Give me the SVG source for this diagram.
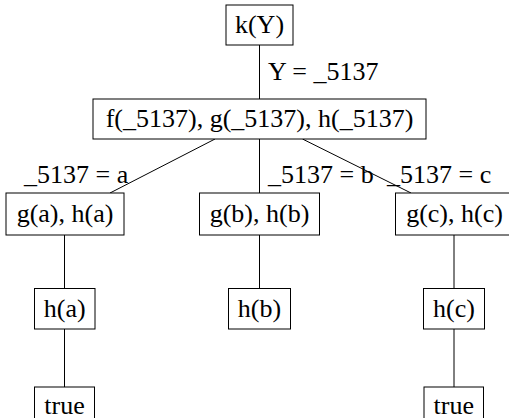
<svg xmlns="http://www.w3.org/2000/svg" width="509" height="418" viewBox="0 0 509 418">
  <style>
    text { font-family: 'Liberation Serif', 'Times New Roman', serif; font-size: 26px; fill: #000; }
    .node rect { fill: #fff; stroke: #000; stroke-width: 1; }
    .node text { text-anchor: middle; }
    .edges line { stroke: #000; stroke-width: 1; }
  </style>
  <rect width="509" height="418" fill="#fff"/>

  <!-- tree edges with their unification labels -->
  <g class="edges" id="edges">
    <line x1="259.5" y1="45" x2="259.5" y2="99"/>
    <line x1="215" y1="139" x2="110" y2="193"/>
    <line x1="259.5" y1="139" x2="259.5" y2="193"/>
    <line x1="302.5" y1="139" x2="411" y2="193"/>
    <line x1="64.5" y1="235" x2="64.5" y2="288"/>
    <line x1="259.5" y1="235" x2="259.5" y2="288"/>
    <line x1="454" y1="235" x2="454" y2="288"/>
    <line x1="64.5" y1="329" x2="64.5" y2="387"/>
    <line x1="454" y1="329" x2="454" y2="387"/>
    <text x="268" y="80">Y = _5137</text>
    <text x="24" y="183">_5137 = a</text>
    <text x="268" y="183">_5137 = b</text>
    <text x="387" y="183">_5137 = c</text>
  </g>

  <g class="node" id="n-kY">
    <rect x="226" y="5" width="67" height="40"/>
    <text x="259.5" y="33">k(Y)</text>
  </g>
  <g class="node" id="n-fgh">
    <rect x="93" y="99" width="333" height="40"/>
    <text x="259.5" y="127">f(_5137), g(_5137), h(_5137)</text>
  </g>
  <g class="node" id="n-gh-a">
    <rect x="6" y="193" width="118" height="42"/>
    <text x="65" y="222">g(a), h(a)</text>
  </g>
  <g class="node" id="n-gh-b">
    <rect x="199.5" y="193" width="120" height="42"/>
    <text x="259.5" y="222">g(b), h(b)</text>
  </g>
  <g class="node" id="n-gh-c">
    <rect x="395.5" y="193" width="118" height="42"/>
    <text x="454.5" y="222">g(c), h(c)</text>
  </g>
  <g class="node" id="n-h-a">
    <rect x="34.5" y="288.5" width="60.5" height="40.5"/>
    <text x="64.75" y="317">h(a)</text>
  </g>
  <g class="node" id="n-h-b">
    <rect x="228.5" y="288.5" width="62" height="40.5"/>
    <text x="259.5" y="317">h(b)</text>
  </g>
  <g class="node" id="n-h-c">
    <rect x="423.5" y="288.5" width="61" height="40.5"/>
    <text x="454" y="317">h(c)</text>
  </g>
  <g class="node" id="n-true-a">
    <rect x="34.5" y="387" width="60" height="40"/>
    <text x="64.5" y="414">true</text>
  </g>
  <g class="node" id="n-true-c">
    <rect x="424" y="387" width="59.5" height="40"/>
    <text x="453.75" y="414">true</text>
  </g>
</svg>
